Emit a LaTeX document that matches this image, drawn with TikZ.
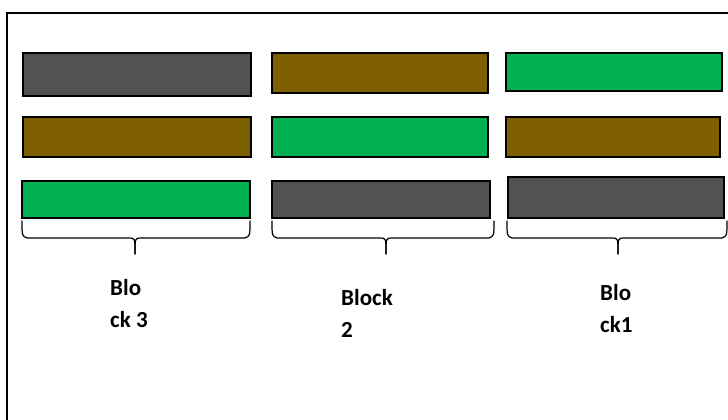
\documentclass[tikz,border=0pt]{standalone}
\usepackage{fontspec}
\setmainfont{Carlito}
\usepackage{xcolor}
\usepackage{tikz}
\usetikzlibrary{positioning,calc}

\definecolor{bargray}{HTML}{525252}
\definecolor{barbrown}{HTML}{7F6000}
\definecolor{bargreen}{HTML}{00B050}

\tikzset{
  bar/.style={draw=black, line width=2.5pt},
  bracket/.style={line width=1.2pt, line cap=round},
  lbl/.style={font=\fontsize{23}{32}\selectfont\bfseries, align=left, anchor=base west, inner sep=0pt}
}

\begin{document}
\begin{tikzpicture}[x=1pt,y=-1pt]
    \useasboundingbox (0,0) rectangle (728,420);

    % Outer frame
    \draw[line width=2pt] (7,420) -- (7,13) -- (728,13);

    % Bars
    \foreach \xa/\ya/\xb/\yb/\col in {
        23/53/251/96/bargray, 23/117/251/157/barbrown, 22/181/250/218/bargreen,
        272/53/488/93/barbrown, 272/117/488/157/bargreen, 272/181/490/218/bargray,
        506/53/722/91/bargreen, 506/117/720/157/barbrown, 508/177/724/218/bargray} {
        \draw[bar, fill=\col] (\xa,\ya) rectangle (\xb,\yb);
    }

    % Braces
    \foreach \xa/\xm/\xb in {22/135/250, 272/386/494, 507/618/727} {
        \draw[bracket] (\xa,221) .. controls (\xa,236) .. (\xa+5,238) -- (\xm-6,238)
            .. controls (\xm,238) .. (\xm,254);
        \draw[bracket] (\xb,221) .. controls (\xb,236) .. (\xb-5,238) -- (\xm+6,238)
            .. controls (\xm,238) .. (\xm,254);
    }

    % Labels (base = last line)
    \node[lbl] (block3) at (110,327) {Blo\\ck 3};
    \node[lbl] (block2) at (341,337) {Block\\2};
    \node[lbl] (block1) at (600,332) {Blo\\ck1};
\end{tikzpicture}
\end{document}
